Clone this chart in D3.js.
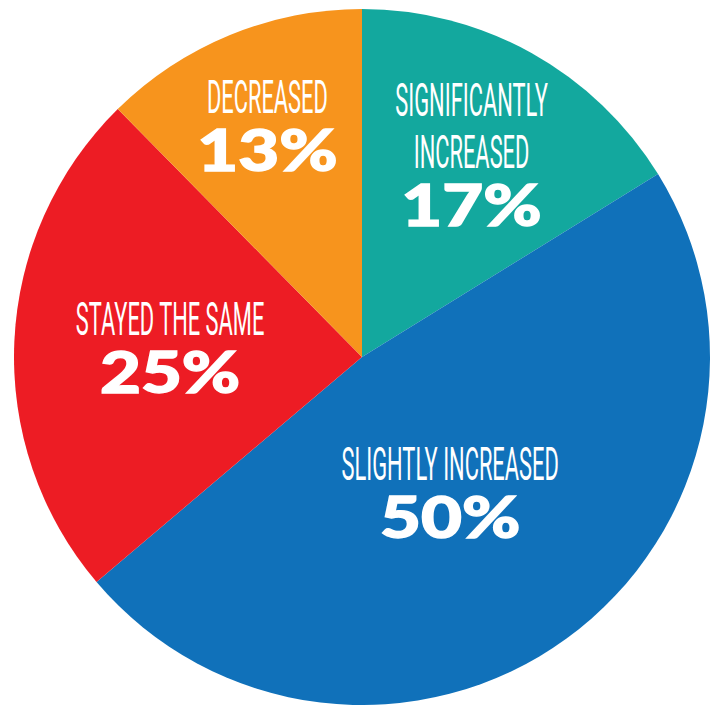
<!DOCTYPE html>
<html>
<head>
<meta charset="utf-8">
<script src="https://cdn.jsdelivr.net/npm/d3@7"></script>
<style>
  html, body { margin: 0; padding: 0; background: #fff; }
  svg { display: block; }
</style>
</head>
<body>
<div id="chart"></div>
<script>
// Width and height
const w = 720;
const h = 705;

// data, clockwise from 12 o'clock
const categories = ['Significantly increased', 'Slightly increased', 'Stayed the same', 'Decreased'];
const labelLines = [['SIGNIFICANTLY', 'INCREASED'], ['SLIGHTLY INCREASED'], ['STAYED THE SAME'], ['DECREASED']];
const values = [17, 50, 25, 13];
const pctLabels = ['17%', '50%', '25%', '13%'];

const colors = ['#13a89e', '#1071ba', '#ed1c24', '#f7941d'];

// where the label block sits along each slice's middle, as a share of radius
const labelRadius = [0.67, 0.47, 0.552, 0.717];
const labelNudge = [[-4, 2], [-8, 4], [0, 0], [0, 0]];

const cx = 362, cy = 357, r = 348;

const svg = d3.select('#chart')
  .append('svg')
  .attr('width', w)
  .attr('height', h);

const g = svg.append('g')
  .attr('transform', `translate(${cx},${cy})`);

const pie = d3.pie()
  .sort(null)
  .value(d => d);

const arcs = pie(values);

const arc = d3.arc()
  .innerRadius(0)
  .outerRadius(r);

g.selectAll('path')
  .data(arcs)
  .enter()
  .append('path')
  .attr('d', arc)
  .attr('fill', (d, i) => colors[i]);

// label blocks
const capH = 32, lineGap = 52, pctGap = 58;
const labelSX = 0.465, pctSX = 1.24;

arcs.forEach((d, i) => {
  const k = labelRadius[i] * r;
  const [px, py] = d3.arc().innerRadius(k).outerRadius(k).centroid(d);
  const lines = labelLines[i];
  const blockH = capH + lineGap * (lines.length - 1) + pctGap;
  const x = px + labelNudge[i][0];
  const top = py + labelNudge[i][1] - blockH / 2;

  lines.forEach((t, j) => {
    g.append('text')
      .attr('transform', `translate(${x},${top + capH + j * lineGap}) scale(${labelSX},1)`)
      .attr('text-anchor', 'middle')
      .attr('font-family', 'Roboto, sans-serif')
      .attr('font-weight', 400)
      .attr('font-size', 47)
      .attr('fill', '#fff')
      .text(t);
  });

  g.append('text')
    .attr('transform', `translate(${x},${top + capH + (lines.length - 1) * lineGap + pctGap}) scale(${pctSX},1)`)
    .attr('text-anchor', 'middle')
    .attr('font-family', 'Lato, Roboto, sans-serif')
    .attr('font-weight', 900)
    .attr('font-size', 57)
    .attr('fill', '#fff')
    .attr('stroke', '#fff')
    .attr('stroke-width', 1.4)
    .text(pctLabels[i]);
});
</script>
</body>
</html>
